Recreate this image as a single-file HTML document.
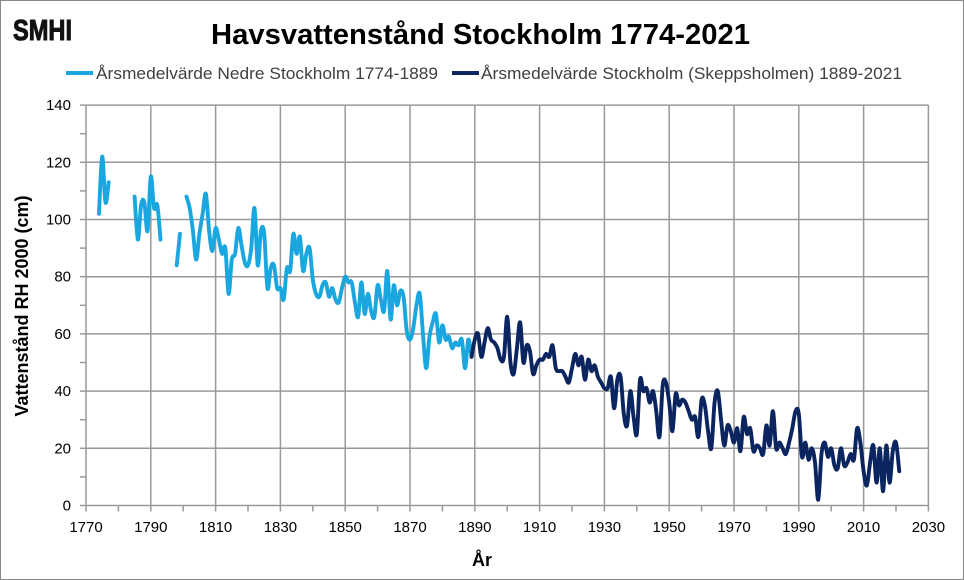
<!DOCTYPE html>
<html><head><meta charset="utf-8"><style>
body{margin:0;background:#fff}
svg{display:block;font-family:"Liberation Sans",Arial,sans-serif}
</style></head><body>
<svg id="s" width="964" height="580" viewBox="0 0 964 580" xmlns="http://www.w3.org/2000/svg">
<rect x="0.5" y="0.5" width="963" height="579" fill="#fff" stroke="#888"/>
<text x="13" y="40" font-size="29" font-weight="bold" fill="#111" stroke="#111" stroke-width="1" textLength="59" lengthAdjust="spacingAndGlyphs">SMHI</text>
<text x="211" y="44" font-size="29" font-weight="bold" fill="#000" textLength="539" lengthAdjust="spacingAndGlyphs">Havsvattenstånd Stockholm 1774-2021</text>
<line x1="66" y1="73" x2="93" y2="73" stroke="#1aa7e0" stroke-width="4"/>
<text x="96" y="79" font-size="16.5" fill="#404040" textLength="342" lengthAdjust="spacingAndGlyphs">Årsmedelvärde Nedre Stockholm 1774-1889</text>
<line x1="452" y1="73" x2="479" y2="73" stroke="#0b2560" stroke-width="4"/>
<text x="481" y="79" font-size="16.5" fill="#404040" textLength="421" lengthAdjust="spacingAndGlyphs">Årsmedelvärde Stockholm (Skeppsholmen) 1889-2021</text>
<g id="grid"></g>
<g id="lbl" font-size="15" fill="#000"></g>
<text x="482" y="566" font-size="18" font-weight="bold" text-anchor="middle">År</text>
<text transform="translate(28,306) rotate(-90)" font-size="18" font-weight="bold" text-anchor="middle">Vattenstånd RH 2000 (cm)</text>
<g id="series" fill="none" stroke-width="3.9" stroke-linejoin="round" stroke-linecap="round"></g>
</svg>
<script>
const X=y=>86+(y-1770)*3.24, Y=v=>505.5-v*2.86;
let g='',l='';
for(let yr=1770;yr<=2030;yr+=20){g+=`<line x1="${X(yr)}" y1="${Y(140)}" x2="${X(yr)}" y2="${Y(0)}" stroke="#999" stroke-width="1.5"/>`;l+=`<text x="${X(yr)}" y="532" text-anchor="middle">${yr}</text>`;}
for(let yr=1770;yr<=2030;yr+=10)g+=`<line x1="${X(yr)}" y1="${Y(0)}" x2="${X(yr)}" y2="${Y(0)+6}" stroke="#999" stroke-width="1.5"/>`;
for(let v=0;v<=140;v+=20){g+=`<line x1="${X(1770)}" y1="${Y(v)}" x2="${X(2030)}" y2="${Y(v)}" stroke="#999" stroke-width="1.5"/>`;l+=`<text x="71" y="${Y(v)+5}" text-anchor="end">${v}</text>`;}
for(let v=0;v<=140;v+=10)g+=`<line x1="${X(1770)-6}" y1="${Y(v)}" x2="${X(1770)}" y2="${Y(v)}" stroke="#999" stroke-width="1.5"/>`;
document.getElementById('grid').innerHTML=g;document.getElementById('lbl').innerHTML=l;
const light=[[1774,[102,122,106,113]],[1785,[108,93,105,106,96,115,104,105,93]],[1798,[84,95]],
[1801,[108,104,96,86,95,102,109,96,89,97,93,88,90,74,86,88,97,91,85,84,90,104,84,96,95,76,83,84,76,76,72,83,82,95,88,94,82,88,90,79,74,73,77,78,73,76,72,71,76,80,78,78,71,66,78,67,74,68,66,77,72,68,82,65,77,70,75,73,61,58,62,70,74,60,48,59,64,67,57,63,58,59,55,57,56,58,48,58,52]]];
const dark=[[1889,[52,58,60,52,57,62,58,57,55,51,52,66,50,46,55,64,50,56,54,46,49,51,51,53,52,56,48,47,47,45,43,48,53,49,52,44,51,47,49,45,43,41,41,45,34,44,45,32,28,40,31,25,44,40,41,36,40,33,24,42,43,36,26,39,35,37,36,33,30,31,24,37,35,26,20,36,40,30,21,28,26,22,27,19,31,25,27,19,21,20,18,28,21,33,20,22,20,18,22,27,33,32,17,22,16,20,15,2,18,22,17,20,14,13,20,14,15,18,16,27,22,12,7,15,21,8,20,5,21,8,19,22,12]]];
function path(s,y0){const p=s.map((v,i)=>[X(y0+i),Y(v)]);if(p.length<2)return'';let d=`M${p[0][0]},${p[0][1]}`;
for(let i=0;i<p.length-1;i++){const a=p[i-1]||p[i],b=p[i],c=p[i+1],e=p[i+2]||c,t=0.17;
d+=`C${b[0]+(c[0]-a[0])*t},${b[1]+(c[1]-a[1])*t} ${c[0]-(e[0]-b[0])*t},${c[1]-(e[1]-b[1])*t} ${c[0]},${c[1]}`;}return d;}
let h='';light.forEach(([y0,s])=>h+=`<path d="${path(s,y0)}" stroke="#1aa7e0"/>`);
dark.forEach(([y0,s])=>h+=`<path d="${path(s,y0)}" stroke="#0b2560"/>`);
document.getElementById('series').innerHTML=h;
</script>
</body></html>
